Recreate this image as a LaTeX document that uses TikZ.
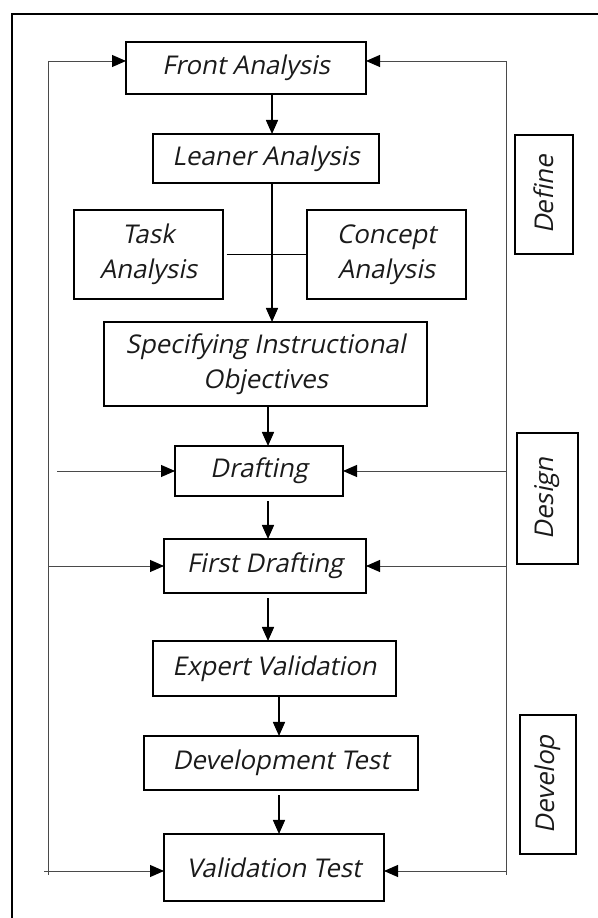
\documentclass[tikz,border=0pt]{standalone}
\usepackage{fontspec}
\newfontfamily\boxfont{Open Sans}[FakeSlant=0.2]
\usetikzlibrary{arrows.meta}
\definecolor{dgInk}{HTML}{1A1A1A}
\definecolor{dgLoop}{HTML}{4A4A4A}

\begin{document}
\begin{tikzpicture}[
  x=1cm,y=1cm,
  font=\boxfont\fontsize{14.7}{20}\selectfont,
  every node/.style={
    text=dgInk,align=center,outer sep=0pt
  },
  box/.style={
    draw=black,
    line width=0.9pt,
    inner sep=2pt
  },
  phase/.style={
    box,
    rotate=90
  },
  flow/.style={
    -{Triangle[length=0.28cm,width=0.24cm]},
    draw=black,
    line width=0.9pt
  },
  loop/.style={
    draw=dgLoop,
    line width=0.55pt
  },
  back/.style={
    loop,
    -{Triangle[length=0.28cm,width=0.24cm,color=black]}
  }
]
\path[use as bounding box] (0,0) rectangle (11.96,18.36);

% Outer frame, cut by the page at right and bottom
\draw[line width=1pt] (0.24,18.08) rectangle (12.50,-0.50);

% Main steps
\node[box,minimum width=4.80cm,minimum height=1.04cm]
  (front) at (4.92,17.00) {Front Analysis};

\node[box,minimum width=4.52cm,minimum height=0.98cm]
  (leaner) at (5.32,15.19) {Leaner Analysis};

\node[box,minimum width=2.98cm,minimum height=1.78cm]
  (task) at (2.97,13.27) {Task\\Analysis};

\node[box,minimum width=3.18cm,minimum height=1.78cm]
  (concept) at (7.73,13.27) {Concept\\Analysis};

\node[box,minimum width=6.46cm,minimum height=1.68cm]
  (spec) at (5.31,11.08) {Specifying Instructional\\Objectives};

\node[box,minimum width=3.36cm,minimum height=1.00cm]
  (draft) at (5.18,8.94) {Drafting};

\node[box,minimum width=4.04cm,minimum height=1.08cm]
  (first) at (5.30,7.04) {First Drafting};

\node[box,minimum width=4.86cm,minimum height=1.10cm]
  (expert) at (5.49,4.99) {Expert Validation};

\node[box,minimum width=5.48cm,minimum height=1.08cm]
  (devtest) at (5.62,3.10) {Development Test};

\node[box,minimum width=4.40cm,minimum height=1.34cm]
  (valid) at (5.48,1.01) {Validation Test};

% Phase labels
\node[phase,minimum width=2.38cm,minimum height=1.16cm]
  (define) at (10.88,14.47) {Define};

\node[phase,minimum width=2.62cm,minimum height=1.22cm]
  (design) at (10.95,8.39) {Design};

\node[phase,minimum width=2.78cm,minimum height=1.12cm]
  (develop) at (10.96,2.67) {Develop};

% Columns of the downward arrows
\coordinate (colA) at (5.44,0);
\coordinate (colB) at (5.36,0);
\coordinate (colC) at (5.58,0);

\draw[flow] (front.south -| colA) -- (leaner.north -| colA);
\draw[flow] (leaner.south -| colA) -- (spec.north -| colA);
\draw[line width=0.9pt] ([xshift=2pt]task.east) -- (concept.west);
\draw[flow] (spec.south -| colB) -- (draft.north -| colB);
\draw[flow] ([yshift=-3pt]draft.south -| colB) -- (first.north -| colB);
\draw[flow] ([yshift=-3pt]first.south -| colB) -- (expert.north -| colB);
\draw[flow] (expert.south -| colC) -- (devtest.north -| colC);
\draw[flow] ([yshift=-3pt]devtest.south -| colC) -- (valid.north -| colC);

% Feedback lines at the left
\coordinate (lTop) at (0.96,17.14);
\coordinate (lBot) at (0.96,0.86);
\coordinate (lVal) at (0.96,0.94);
\coordinate (dIn) at (1.14,8.94);

\draw[loop] (lTop) -- (lBot);
\draw[back] (lTop) -- (lTop -| front.west);
\draw[back] (dIn) -- (draft.west);
\draw[back] (first.west -| lTop) -- (first.west);
\draw[back] ([xshift=-2pt]lVal) -- (lVal -| valid.west);

% Feedback lines at the right
\coordinate (rTop) at (10.12,17.14);
\coordinate (rBot) at (10.12,0.86);
\coordinate (rVal) at (10.12,0.94);

\draw[loop] (rTop) -- (rBot);
\draw[back] (rTop) -- (rTop -| front.east);
\draw[back] (draft.east -| rTop) -- (draft.east);
\draw[back] (first.east -| rTop) -- (first.east);
\draw[back] (rVal) -- (rVal -| valid.east);

\end{tikzpicture}
\end{document}
